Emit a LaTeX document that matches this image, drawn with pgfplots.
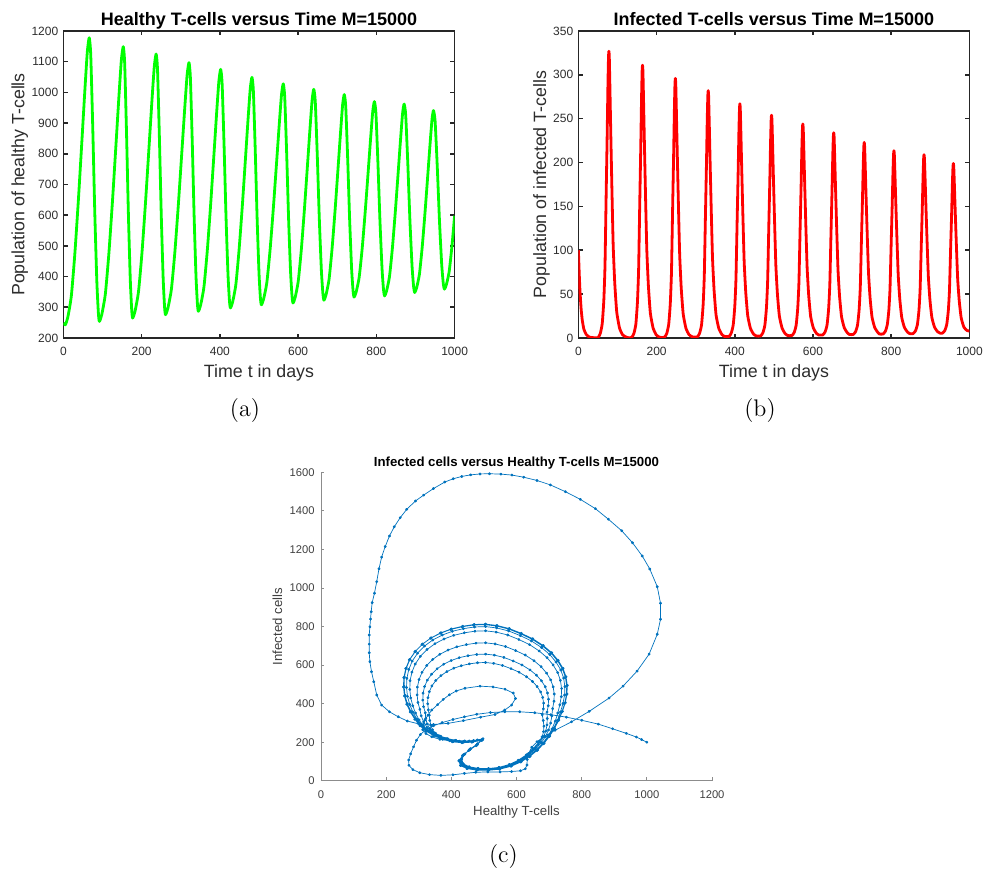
\documentclass[border=0pt]{standalone}
\usepackage{fontspec}
\setsansfont{Liberation Sans}
\usepackage{pgfplots}
\pgfplotsset{compat=1.18}
\definecolor{mgreen}{RGB}{0,255,0}
\definecolor{mred}{RGB}{255,0,0}
\definecolor{mblue}{RGB}{0,114,189}
\definecolor{axgray}{RGB}{38,38,38}
\definecolor{lblgray}{RGB}{45,45,45}
\pgfplotsset{
  every axis title shift=0pt,
  topstyle/.style={
    scale only axis, width=195.6pt, height=153.5pt,
    axis line style={axgray, line width=0.8pt},
    every tick/.style={axgray, line width=0.8pt},
    tick align=inside, major tick length=2.2pt,
    tick label style={font=\sffamily\fontsize{6}{7}\selectfont, text=lblgray},
    /pgf/number format/assume math mode=true,
    /pgf/number format/1000 sep={},
    scaled ticks=false,
    xticklabel style={anchor=base, yshift=-8.8pt},
    yticklabel style={anchor=east, inner sep=0pt, xshift=-2.4pt},
    title style={at={(axis description cs:0.5,1.0176)}, anchor=base, font=\sffamily\bfseries\fontsize{9}{10}\selectfont},
    xlabel style={at={(axis description cs:0.5,-0.1283)}, anchor=base, font=\sffamily\fontsize{8.9}{10}\selectfont, text=lblgray},
    xmin=0, xmax=1000, xtick={0,200,...,1000},
  }
}
\begin{document}
\begin{tikzpicture}
\path[use as bounding box] (0,0) rectangle (493pt,435pt);

% (a)
\begin{axis}[topstyle, at={(31.7pt,266pt)}, anchor=south west,
  ymin=200, ymax=1200, ytick={200,300,...,1200},
  title={Healthy T-cells versus Time M=15000},
  xlabel={Time t in days},
  ylabel={Population of healthy T-cells},
  ylabel style={at={(axis description cs:-0.0996,0.5)}, anchor=base, font=\sffamily\fontsize{8.9}{10}\selectfont, text=lblgray},
]
\addplot[mgreen, line width=1.4pt, line join=round, smooth, tension=0.35] coordinates {
(0,249) (2,245) (5,243) (11.1,266.4) (20.25,336.5) (29.4,476.8) (38.55,654.4) (47.7,850.8) (55,1009.7) (61.1,1131.3) (66,1178) (69.9,1122.6) (75.1,882.3) (80.3,605.1) (85.5,383.4) (89.4,281.7) (92,254)
(98.1,276.4) (107.25,343.5) (116.4,477.8) (125.55,647.8) (134.7,835.8) (142,987.9) (148.1,1104.3) (153,1149) (156.6,1096) (161.4,866) (166.2,601) (171,389) (174.6,291.5) (177,265)
(183,286.5) (192,351) (201,480) (210,643.4) (219,824) (226.2,970.2) (232.2,1082) (237,1125) (240.6,1074) (245.4,853) (250.2,598.6) (255,394.9) (258.6,301.5) (261,276)
(267,296.5) (276,358) (285,481) (294,637) (303,810) (310.2,949) (316.2,1056) (321,1097) (324.6,1048) (329.4,838) (334.2,595) (339,400) (342.6,311) (345,287)
(350.7,306.7) (359.25,366) (367.8,484) (376.35,634) (384.9,799) (391.7,933) (397.4,1036) (402,1075) (405.75,1028) (410.75,826) (415.75,593) (420.75,407) (424.5,321) (427,298)
(432.5,316.8) (440.75,373) (449,486) (457.25,628) (465.5,786) (472.1,914) (477.6,1011) (482,1049) (485.6,1005) (490.4,812) (495.2,590) (500,412) (503.6,330) (506,308)
(511.6,326) (520,380) (528.4,488) (536.8,625) (545.2,776) (551.9,898) (557.5,992) (562,1028) (565.75,985) (570.75,800) (575.75,585) (580.75,414) (584.5,335) (587,314)
(592.3,331.4) (600.25,384) (608.2,488) (616.15,620) (624.1,766) (630.5,885) (635.8,975) (640,1010) (643.9,969) (649.1,790) (654.3,584) (659.5,419) (663.4,344) (666,323)
(671.2,339.8) (679,390) (686.8,491) (694.6,618) (702.4,759) (708.6,872) (713.8,960) (718,993) (721.75,953) (726.75,782) (731.75,584) (736.75,425) (740.5,353) (743,333)
(748.2,348.9) (756,397) (763.8,492) (771.6,613) (779.4,747) (785.6,855) (790.8,938) (795,970) (798.9,932) (804.1,767) (809.3,578) (814.5,426) (818.4,356) (821,337)
(826,352.6) (833.5,399.5) (841,493) (848.5,612) (856,743) (862,849.5) (867,931) (871,962) (875.05,925) (880.45,766) (885.85,581) (891.25,434) (895.3,366) (898,348)
(902.8,362.8) (910,407) (917.2,496) (924.4,609) (931.6,733) (937.4,834) (942.2,911) (946,941) (950.2,906) (955.8,755) (961.4,580) (967,440) (971.2,376) (974,359)
(978.8,373) (986,415) (993.2,499) (1000,598)
};
\end{axis}

% (b)
\begin{axis}[topstyle, at={(289.2pt,266pt)}, anchor=south west, width=195.5pt,
  ymin=0, ymax=350, ytick={0,50,...,350},
  title={Infected T-cells versus Time M=15000},
  xlabel={Time t in days},
  ylabel={Population of infected T-cells},
  ylabel style={at={(axis description cs:-0.0824,0.5)}, anchor=base, font=\sffamily\fontsize{8.9}{10}\selectfont, text=lblgray},
]
\addplot[mred, line width=1.4pt, line join=round, smooth, tension=0.3] coordinates {
(0,100) (2,75) (4,54) (7,33) (10,20) (14,10) (20,4) (28,1) (40,0.3)
(50,0.3) (56,5.2) (61,16.6) (65,42.8) (68,82) (71,163.7) (73.5,229) (75.5,287.8) (77,320.5) (78,327) (79,320.5) (80.5,287.8) (83,229) (86,163.7) (89,104.8) (93,62.4) (98,29.7) (105,11.7) (113,3.6) (125,0.5)
(136,0.5) (142,5.2) (147,16) (151,40.9) (154,78.1) (157,155.8) (159.5,217.9) (161.5,273.7) (163,304.8) (164,311) (165,304.8) (166.5,273.7) (169,217.9) (172,155.8) (175,99.9) (179,59.5) (184,28.4) (191,11.4) (199,3.6) (208,0.8)
(220,0.8) (226,5.2) (231,15.6) (235,39.2) (238,74.6) (241,148.4) (243.5,207.4) (245.5,260.6) (247,290.1) (248,296) (249,290.1) (250.5,260.6) (253,207.4) (256,148.4) (259,95.3) (263,56.9) (268,27.4) (275,11.1) (283,3.8) (292,1.2)
(304,1.2) (310,5.4) (315,15.2) (319,37.7) (322,71.4) (325,141.6) (327.5,197.8) (329.5,248.3) (331,276.4) (332,282) (333,276.4) (334.5,248.3) (337,197.8) (340,141.6) (343,91.1) (347,54.6) (352,26.5) (359,11) (367,4) (374,1.7)
(385,1.7) (391,5.7) (396,15) (400,36.2) (403,68) (406,134.4) (408.5,187.4) (410.5,235.2) (412,261.7) (413,267) (414,261.7) (415.5,235.2) (418,187.4) (421,134.4) (424,86.6) (428,52.1) (433,25.6) (440,11) (448,4.4) (455,2.3)
(466,2.3) (472,6.1) (477,14.9) (481,35) (484,65.2) (487,128.2) (489.5,178.5) (491.5,223.8) (493,249) (494,254) (495,249) (496.5,223.8) (499,178.5) (502,128.2) (505,82.8) (509,50.1) (514,25) (521,11.1) (529,4.8) (535,2.8)
(546,2.8) (552,6.4) (557,14.9) (561,34.2) (564,63.1) (567,123.4) (569.5,171.6) (571.5,215.1) (573,239.2) (574,244) (575,239.2) (576.5,215.1) (579,171.6) (582,123.4) (585,80) (589,48.6) (594,24.5) (601,11.2) (609,5.2) (614,3.5)
(625,3.5) (631,7) (636,15) (640,33.5) (643,61.1) (646,118.8) (648.5,164.9) (650.5,206.3) (652,229.4) (653,234) (654,229.4) (655.5,206.3) (658,164.9) (661,118.8) (664,77.3) (668,47.3) (673,24.2) (680,11.6) (688,5.8) (693,4)
(703,4) (709,7.3) (714,15) (718,32.5) (721,58.8) (724,113.5) (726.5,157.3) (728.5,196.7) (730,218.6) (731,223) (732,218.6) (733.5,196.7) (736,157.3) (739,113.5) (742,74.1) (746,45.6) (751,23.7) (758,11.7) (766,6.2) (770,4.5)
(779,4.5) (785,7.6) (790,15) (794,31.7) (797,56.8) (800,109) (802.5,150.8) (804.5,188.4) (806,209.3) (807,213.5) (808,209.3) (809.5,188.4) (812,150.8) (815,109) (818,71.4) (822,44.2) (827,23.3) (834,11.8) (842,6.6) (847,5)
(856,5) (862,8.1) (867,15.2) (871,31.5) (874,56) (877,107) (879.5,147.8) (881.5,184.5) (883,204.9) (884,209) (885,204.9) (886.5,184.5) (889,147.8) (892,107) (895,70.3) (899,43.8) (904,23.4) (911,12.1) (919,7) (925,5.5)
(931,5.5) (937,8.4) (942,15.2) (946,30.7) (949,53.9) (952,102.3) (954.5,141) (956.5,175.8) (958,195.1) (959,199) (960,195.1) (961.5,175.8) (964,141) (967,102.3) (970,67.4) (974,42.3) (979,22.9) (986,12.3) (994,8.5) (1000,8)
};
\end{axis}

% (c)
\begin{axis}[at={(160.5pt,44.6pt)}, anchor=south west,
  scale only axis, width=195.5pt, height=154.2pt,
  axis lines*=left,
  axis line style={black!45, line width=0.5pt},
  every tick/.style={black!45, line width=0.5pt},
  tick align=inside, major tick length=1.7pt,
  tick label style={font=\sffamily\fontsize{5.6}{6.5}\selectfont, text=black!75},
  /pgf/number format/assume math mode=true,
  /pgf/number format/1000 sep={},
  scaled ticks=false,
  xticklabel style={anchor=base, yshift=-8.8pt},
  yticklabel style={anchor=east, inner sep=0pt, xshift=-3pt},
  xmin=0, xmax=1200, ymin=0, ymax=1600,
  xtick={0,200,...,1200}, ytick={0,200,...,1600},
  title={Infected cells versus Healthy T-cells M=15000},
  title style={at={(axis description cs:0.5,1.0198)}, anchor=base, font=\sffamily\bfseries\fontsize{6.6}{7.5}\selectfont},
  xlabel={Healthy T-cells},
  xlabel style={at={(axis description cs:0.5,-0.1128)}, anchor=base, font=\sffamily\fontsize{6.6}{7.5}\selectfont, text=black!75},
  ylabel={Infected cells},
  ylabel style={at={(axis description cs:-0.0992,0.5)}, anchor=base, font=\sffamily\fontsize{6.6}{7.5}\selectfont, text=black!75},
  clip=false,
]
\addplot[mblue, line width=0.35pt, line join=round, mark=*, mark size=0.55pt] coordinates {
(1000,200) (984,214) (968,227) (937,246) (895,270) (851,294) (800,314) (753,330) (705,343) (656,353) (610,358) (564,358) (520,354) (478,345) (440,332) (405,318) (372,302) (345,285) (322,265) (305,240) (293,210) (284,176) (275,140) (269,108) (270,80) (282,58) (303,42) (333,32) (368,28) (405,31) (440,38) (475,44) (512,46) (550,46) (585,48) (612,52) (627,62) (632,82) (633,110) (637,142) (647,174) (663,203) (685,230) (718,262) (769,306) (823,360) (884,429) (927,491) (970,569) (1007,657) (1032,760) (1042,838) (1042,921) (1032,1007) (1009,1099) (986,1166) (956,1235) (923,1297) (882,1357) (842,1412) (796,1460) (750,1500) (704,1535) (663,1558) (622,1575) (586,1586) (552,1591) (517,1593) (488,1592) (459,1587) (432,1579) (406,1567) (380,1550) (345,1516) (315,1482) (290,1452) (263,1408) (243,1365) (225,1318) (210,1270) (197,1215) (186,1160) (178,1100) (171,1033) (164,973) (157,924) (154,877) (152,839) (150,799) (148,756) (148,709) (148,664) (150,618) (155,566) (162,514) (171,445) (186,393) (210,358) (237,332) (265,310) (300,295) (345,292) (390,298) (437,312) (490,330) (534,344) (564,367) (585,393) (597,427) (590,455) (565,475) (528,487) (488,491) (442,480) (415,466) (394,446) (375,422) (358,395) (340,367) (328,340) (319,315) (312,290) (312,265) (322,245) (340,228) (365,215) (395,208) (425,205) (455,207) (480,212) (497,218)
(480.3,191.7) (459.3,166.7) (442,139.7) (432,112.7) (436.5,88.7) (454.8,72.7) (482.2,64.7) (514.1,63.7) (546.1,69.7) (578,84.7) (605.4,106.7) (630.1,134.7) (651.1,166.7) (669.3,201.7) (678.5,228) (683.1,254.5) (684.1,283.1) (682.1,313) (679,342.8) (682.5,372.7) (683.2,402.6) (680.4,432.5) (674,461) (663.3,488.9) (649.1,515.5) (630.7,540) (608,563.3) (583.1,581.9) (556.8,598.5) (529.9,609.1) (505,613.7) (480.1,612.4) (455.3,606.4) (430.4,597.1) (407.7,583.9) (386.4,566.6) (368,545.3) (352.3,520.1) (340.3,492.2) (332.5,462.3) (328.2,431.1) (327.5,399.3) (329.6,368.1) (332,340) (334,313) (337,288) (342,265) (351.6,246.5) (367.6,231.3) (388.7,218.7) (414.2,210) (441.1,206.7) (468.6,208.7)
(495.8,214.9) (479.9,190.3) (458.5,165.3) (440.8,138.3) (430.5,111.3) (435.2,87.3) (453.8,71.3) (481.7,63.3) (514.3,62.3) (546.9,68.3) (579.5,83.3) (607.4,105.3) (632.5,133.3) (654,165.3) (672.6,200.3) (683.3,228.8) (690.1,258.3) (693.6,290) (694.3,323.2) (693.7,356.4) (697.5,389.5) (698.3,422.7) (695.2,455.8) (688.3,487.5) (676.7,518.5) (661.3,548) (641.3,575.3) (616.7,601.1) (589.7,621.7) (561.2,640.1) (532,651.9) (505,657.1) (478,655.6) (451.1,648.9) (424.1,638.7) (399.5,623.9) (376.4,604.8) (356.4,581.2) (339.4,553.2) (326.4,522.2) (317.9,489) (313.3,454.4) (312.5,419) (314.8,384.4) (320.2,352.7) (321.3,323.2) (325.9,295.2) (333.8,270.1) (346.1,249.5) (363.5,232.5) (385.9,218.5) (412.3,208.9) (439.8,205.3) (467.9,207.5)
(495.6,214.2) (479.3,188.3) (457.4,163.3) (439.3,136.3) (428.8,109.3) (433.6,85.3) (452.6,69.3) (481.2,61.3) (514.5,60.3) (547.8,66.3) (581.2,81.3) (609.7,103.3) (635.4,131.3) (657.3,163.3) (676.4,198.3) (689,230.1) (698.3,263.5) (704.7,299.4) (708.5,337.1) (710.8,374.7) (715,412.3) (715.8,449.9) (712.5,487.5) (704.9,523.5) (692.3,558.6) (675.5,592) (653.7,623) (626.8,652.2) (597.4,675.6) (566.3,696.5) (534.4,709.9) (505,715.8) (475.6,714.1) (446.2,706.6) (416.8,694.9) (389.9,678.1) (364.7,656.4) (342.9,629.7) (324.4,597.9) (310.1,562.8) (300.9,525.2) (295.8,485.9) (295,445.7) (297.5,406.4) (303.4,370.5) (307.5,337.1) (315,305.3) (325.4,276.9) (339.7,253.5) (358.8,234.2) (382.6,218.3) (410.1,207.5) (438.4,203.3) (467,205.8)
(495.2,213.4) (478.6,186.2) (456.1,161.2) (437.4,134.2) (426.7,107.2) (431.6,83.2) (451.2,67.2) (480.5,59.2) (514.8,58.2) (549.1,64.2) (583.3,79.2) (612.7,101.2) (639.1,129.2) (661.6,161.2) (681.2,196.2) (696.3,231.3) (708.8,269) (718.9,309.4) (726.8,351.8) (732.9,394.1) (737.5,436.5) (738.4,478.8) (734.7,521.1) (726.3,561.6) (712.4,601.1) (693.8,638.8) (669.6,673.6) (639.9,706.5) (607.3,732.9) (572.9,756.4) (537.6,771.4) (505,778) (472.4,776.2) (439.9,767.7) (407.3,754.5) (377.6,735.7) (349.7,711.2) (325.5,681.1) (305,645.4) (289.2,605.8) (279,563.5) (273.4,519.3) (272.5,474.1) (275.3,429.9) (281.8,389.4) (289.8,351.8) (300.9,316) (314.5,284) (331.4,257.7) (352.7,236) (378.3,218.1) (407.2,205.9) (436.5,201.2) (465.9,204)
(495.1,213.1) (478.2,185.4) (455.5,160.4) (436.6,133.4) (425.7,106.4) (430.7,82.4) (450.5,66.4) (480.2,58.4) (514.9,57.4) (549.6,63.4) (584.3,78.4) (614,100.4) (640.8,128.4) (663.6,160.4) (683.4,195.4) (699.6,231.7) (713.5,270.8) (725.3,312.9) (734.9,356.9) (742.7,400.9) (747.5,444.9) (748.5,488.9) (744.6,532.9) (735.9,575) (721.3,616.1) (701.9,655.2) (676.7,691.4) (645.7,725.6) (611.7,753) (575.8,777.4) (539,793.1) (505,799.9) (471,798) (437.1,789.2) (403.1,775.5) (372.1,755.9) (343,730.5) (317.8,699.2) (296.4,662) (280,620.9) (269.3,576.9) (263.5,531) (262.5,484) (265.4,438.1) (272.2,396) (281.9,356.9) (294.7,319.7) (309.6,286.5) (327.8,259.1) (350,236.6) (376.4,218) (406,205.3) (435.6,200.4) (465.4,203.3)
(495,213) (478,185) (455,160) (436,133) (425,106) (430,82) (450,66) (480,58) (515,57) (550,63) (585,78) (615,100) (642,128) (665,160) (685,195) (702,232) (717,272) (730,315) (741,360) (750,405) (755,450) (756,495) (752,540) (743,583) (728,625) (708,665) (682,702) (650,737) (615,765) (578,790) (540,806) (505,813) (470,811) (435,802) (400,788) (368,768) (338,742) (312,710) (290,672) (273,630) (262,585) (256,538) (255,490) (258,443) (265,400) (276,360) (290,322) (306,288) (325,260) (348,237) (375,218) (405,205) (435,200) (465,203)
(493,210) (476,182) (453,157) (434,130) (423,103) (428,79) (448,63) (478,55) (513,54) (548,60) (583,75) (613,97) (640,125) (663,157) (683,192) (700,229) (715,269) (728,312) (739,357) (748,402) (753,447) (754,492) (750,537) (741,580) (726,622) (706,662) (680,699) (648,734) (613,762) (576,787) (538,803) (503,810) (468,808) (433,799) (398,785) (366,765) (336,739) (310,707) (288,669) (271,627) (260,582) (254,535) (253,487) (256,440) (263,397) (274,357) (288,319) (304,285) (323,257) (346,234) (373,215) (403,202) (433,197) (463,200) (493,210)
};
\end{axis}

\node[anchor=base, font=\fontsize{12}{14}\selectfont] at (122.5pt,226.5pt) {(a)};
\node[anchor=base, font=\fontsize{12}{14}\selectfont] at (380pt,226.5pt) {(b)};
\node[anchor=base, font=\fontsize{12}{14}\selectfont] at (251.7pt,3.5pt) {(c)};
\end{tikzpicture}
\end{document}
